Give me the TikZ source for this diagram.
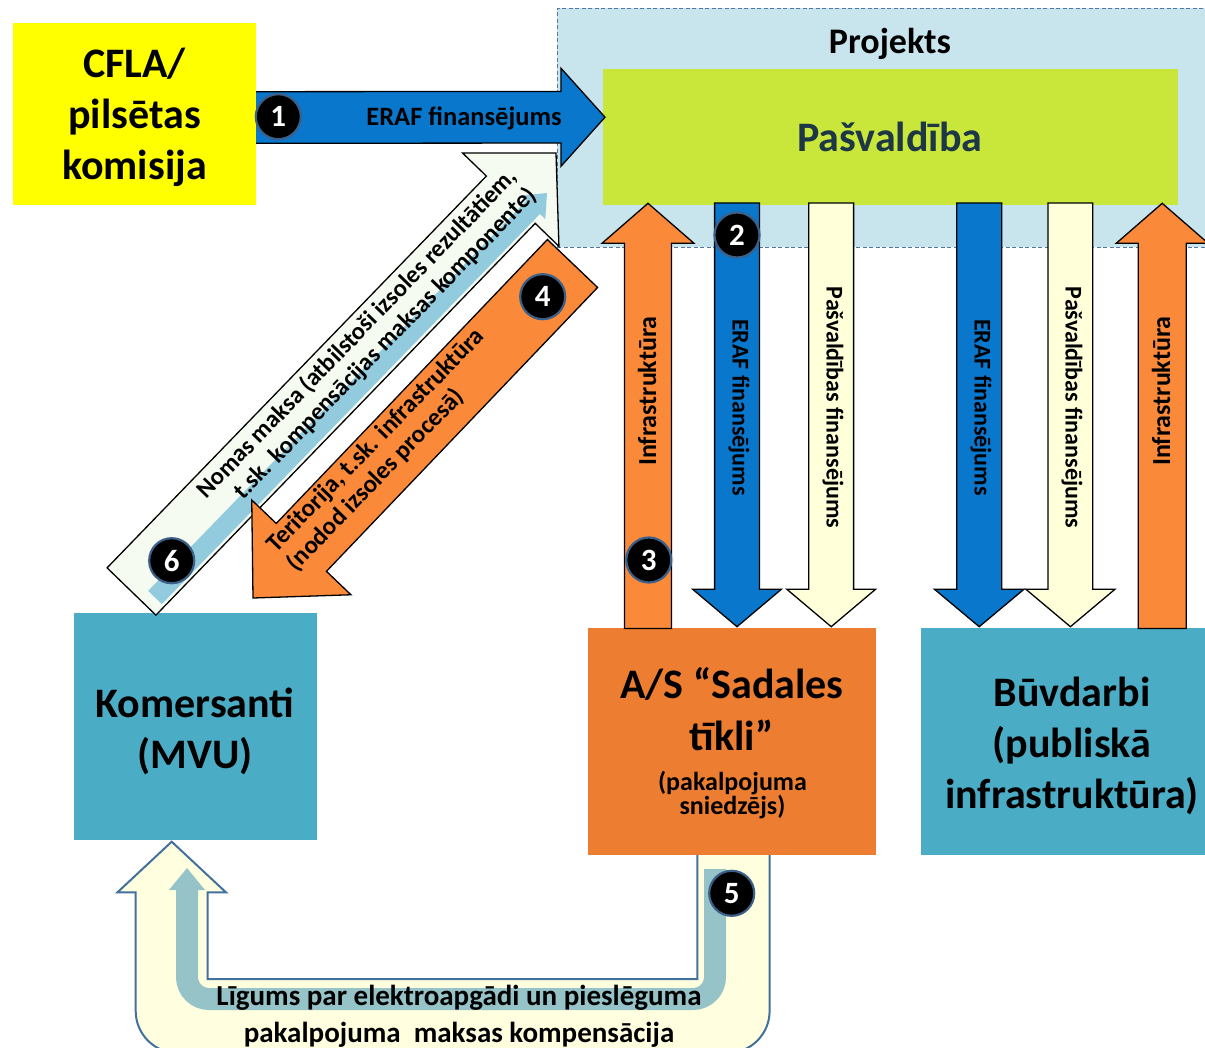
\documentclass[tikz,border=0pt]{standalone}
\usepackage{fontspec}
\setmainfont{Carlito}
\usetikzlibrary{calc}
\definecolor{cyel}{RGB}{255,255,0}
\definecolor{cproj}{RGB}{200,229,238}
\definecolor{cdash}{RGB}{84,120,160}
\definecolor{clime}{RGB}{201,230,58}
\definecolor{cdark}{RGB}{29,55,70}
\definecolor{cblue}{RGB}{8,119,204}
\definecolor{corange}{RGB}{250,137,58}
\definecolor{csad}{RGB}{237,125,49}
\definecolor{cteal}{RGB}{75,172,198}
\definecolor{clyel}{RGB}{255,255,217}
\definecolor{cuyel}{RGB}{255,255,224}
\definecolor{cgreen}{RGB}{245,251,240}
\definecolor{cinner}{RGB}{146,202,222}
\definecolor{cband}{RGB}{150,195,200}
\definecolor{csteel}{RGB}{65,113,156}
\definecolor{cbadge}{RGB}{60,95,135}
\newcommand\fsz[2]{\fontsize{#1pt}{#2pt}\selectfont}
% block arrow: name, style, tail, tip, shaft half width, head half width, head length
\newcommand\blkarrow[7]{%
  \coordinate (#1-h) at ($(#4)!#7!(#3)$);
  \path[#2] ($(#3)!#5!90:(#4)$) -- ($(#1-h)!#5!-90:(#3)$) -- ($(#1-h)!#6!-90:(#3)$)
    -- (#4) -- ($(#1-h)!#6!90:(#3)$) -- ($(#1-h)!#5!90:(#3)$) -- ($(#3)!#5!-90:(#4)$) -- cycle;
}
\tikzset{
  boxnode/.style={inner sep=0pt, outer sep=0pt, anchor=north west},
  lbl/.style={inner sep=0pt, align=center, font=\bfseries},
  badge/.style={circle, fill=black, draw=cbadge, line width=2.2pt, minimum size=45pt,
    inner sep=0pt, text=white, font=\bfseries\fsz{31}{31}},
  arrowline/.style={draw=black, line width=1.3pt, line join=miter},
}
\begin{document}
\begin{tikzpicture}[x=1pt,y=-1pt]
\fill[white] (0,0) rectangle (1205,1048);
\useasboundingbox (0,0) rectangle (1205,1048);
\clip (0,0) rectangle (1205,1048);

% Projekts area and Pasvaldiba
\node[boxnode, fill=cproj, draw=cdash, line width=1pt, dash pattern=on 4pt off 2.5pt,
  minimum width=665pt, minimum height=239pt] (proj) at (557.3,8.3) {};
\node[lbl, font=\bfseries\fsz{36}{40}] (projT) at (890,43.7) {Projekts};
\node[boxnode, fill=clime, minimum width=574.4pt, minimum height=136pt] (pasv) at (603.3,69) {};
\node[lbl, text=cdark, font=\bfseries\fsz{42}{50}] (pasvT) at (890,137) {Pašvaldība};

% U-shaped arrow 5
\draw[draw=csteel, line width=2pt, fill=cuyel, line join=miter]
  (697.3,850) -- (769.6,850) -- (769.6,1011)
  .. controls (769.6,1034.2) and (750.8,1053) .. (727.6,1053)
  -- (177.7,1053) .. controls (154.5,1053) and (135.7,1034.2) .. (135.7,1011)
  -- (135.7,892.3) -- (117.5,892.3) -- (171.7,841.7) -- (225.9,892.3)
  -- (207.7,892.3) -- (207.7,979) -- (697.3,979) -- cycle;
\draw[cband, line width=22pt, rounded corners=22pt] (187,889) -- (187,999) -- (715,999) -- (715,869);
\fill[cband] (169,890) -- (187,868) -- (205,890) -- cycle;

% boxes
\node[boxnode, fill=cteal, minimum width=242.5pt, minimum height=227pt] (kom) at (74,613) {};
\node[boxnode, fill=csad, minimum width=287.6pt, minimum height=226.7pt] (sad) at (588.2,628.3) {};
\node[boxnode, fill=cteal, minimum width=300pt, minimum height=226.7pt] (buv) at (920.5,628.3) {};

% vertical arrows
\coordinate (i1t) at (648,628.5);   \coordinate (i1p) at (648,203.3);
\coordinate (e1t) at (737,203);     \coordinate (e1p) at (737,626.7);
\coordinate (p1t) at (831.2,203);   \coordinate (p1p) at (831.2,626.7);
\coordinate (e2t) at (979.2,203);   \coordinate (e2p) at (979.2,626.7);
\coordinate (p2t) at (1070.4,203);  \coordinate (p2p) at (1070.4,626.7);
\coordinate (i2t) at (1162.2,628.5);\coordinate (i2p) at (1162.2,203.3);
\blkarrow{i1}{fill=corange, arrowline}{i1t}{i1p}{23.5pt}{46pt}{40pt}
\blkarrow{e1}{fill=cblue, arrowline}{e1t}{e1p}{22.4pt}{44.3pt}{37.4pt}
\blkarrow{p1}{fill=clyel, arrowline}{p1t}{p1p}{22.4pt}{44.3pt}{37.4pt}
\blkarrow{e2}{fill=cblue, arrowline}{e2t}{e2p}{22.5pt}{44.7pt}{37.4pt}
\blkarrow{p2}{fill=clyel, arrowline}{p2t}{p2p}{22.4pt}{44.5pt}{37.4pt}
\blkarrow{i2}{fill=corange, arrowline}{i2t}{i2p}{24pt}{46pt}{40pt}

% diagonal arrow 6 (Nomas maksa)
\coordinate (a6t) at (131.5,591.5); \coordinate (a6p) at (556,153);
\blkarrow{a6}{fill=cgreen, arrowline}{a6t}{a6p}{34pt}{67pt}{65pt}
\coordinate (a6it) at (155,597.5); \coordinate (a6ip) at (547,193);
\blkarrow{a6i}{fill=cinner}{a6it}{a6ip}{9.5pt}{17pt}{20pt}

% diagonal arrow 4 (Teritorija)
\coordinate (a4t) at (572.5,263.5); \coordinate (a4p) at (253,598);
\blkarrow{a4}{fill=corange, arrowline}{a4t}{a4p}{34.7pt}{68.6pt}{70pt}

% arrow 1
\coordinate (a1t) at (250,117.5); \coordinate (a1p) at (605,117.2);
\blkarrow{a1}{fill=cblue, arrowline}{a1t}{a1p}{25.8pt}{49pt}{44pt}

% CFLA box
\node[boxnode, fill=cyel, minimum width=243.3pt, minimum height=181.7pt] (cfla) at (12.7,23.3) {};

% texts
\node[lbl, font=\bfseries\fsz{42}{51}] (cflaT) at (134.5,117) {CFLA/\\pilsētas\\komisija};
\node[lbl, font=\bfseries\fsz{42}{51}] (komT) at (195,731) {Komersanti\\(MVU)};
\node[lbl, font=\bfseries\fsz{42}{51.6}] (sadT) at (732,709) {A/S “Sadales\\tīkli”};
\node[lbl, font=\bfseries\fsz{26}{24.5}] (sadS) at (732.5,795) {(pakalpojuma\\sniedzējs)};
\node[lbl, font=\bfseries\fsz{42}{51}] (buvT) at (1072,745.5) {Būvdarbi\\(publiskā\\infrastruktūra)};

\node[lbl, font=\bfseries\fsz{26.5}{30}] (erafH) at (464,118.5) {ERAF finansējums};
\node[lbl, rotate=90, font=\bfseries\fsz{26}{28}] (infT1) at (647,391) {Infrastruktūra};
\node[lbl, rotate=-90, font=\bfseries\fsz{24}{28}] (erafV1) at (739,407.5) {ERAF finansējums};
\node[lbl, rotate=-90, font=\bfseries\fsz{24}{28}] (pasvV1) at (833,407.5) {Pašvaldības finansējums};
\node[lbl, rotate=-90, font=\bfseries\fsz{24}{28}] (erafV2) at (981,407.5) {ERAF finansējums};
\node[lbl, rotate=-90, font=\bfseries\fsz{24}{28}] (pasvV2) at (1072,407.5) {Pašvaldības finansējums};
\node[lbl, rotate=90, font=\bfseries\fsz{26}{28}] (infT2) at (1161,391) {Infrastruktūra};

\node[lbl, align=right, rotate=45.9, font=\bfseries\fsz{24.5}{27}] (nomT) at (367,343)
  {Nomas maksa (atbilstoši izsoles rezultātiem,\\t.sk. kompensācijas maksas komponente)};
\node[lbl, align=left, rotate=45.9, font=\bfseries\fsz{25}{27.5}] (terT) at (386,450)
  {Teritorija, t.sk. infrastruktūra\\(nodod izsoles procesā)};

\node[lbl, font=\bfseries\fsz{29}{36.7}] (ligT) at (459,1016.5)
  {Līgums par elektroapgādi un pieslēguma\\pakalpojuma~ maksas kompensācija};

% badges
\node[badge] (b1) at (278.3,116.7) {1};
\node[badge] (b2) at (737,235) {2};
\node[badge] (b3) at (648.8,560) {3};
\node[badge] (b4) at (542.7,296.7) {4};
\node[badge] (b5) at (731.7,893.3) {5};
\node[badge] (b6) at (171.7,560.7) {6};
\end{tikzpicture}
\end{document}
